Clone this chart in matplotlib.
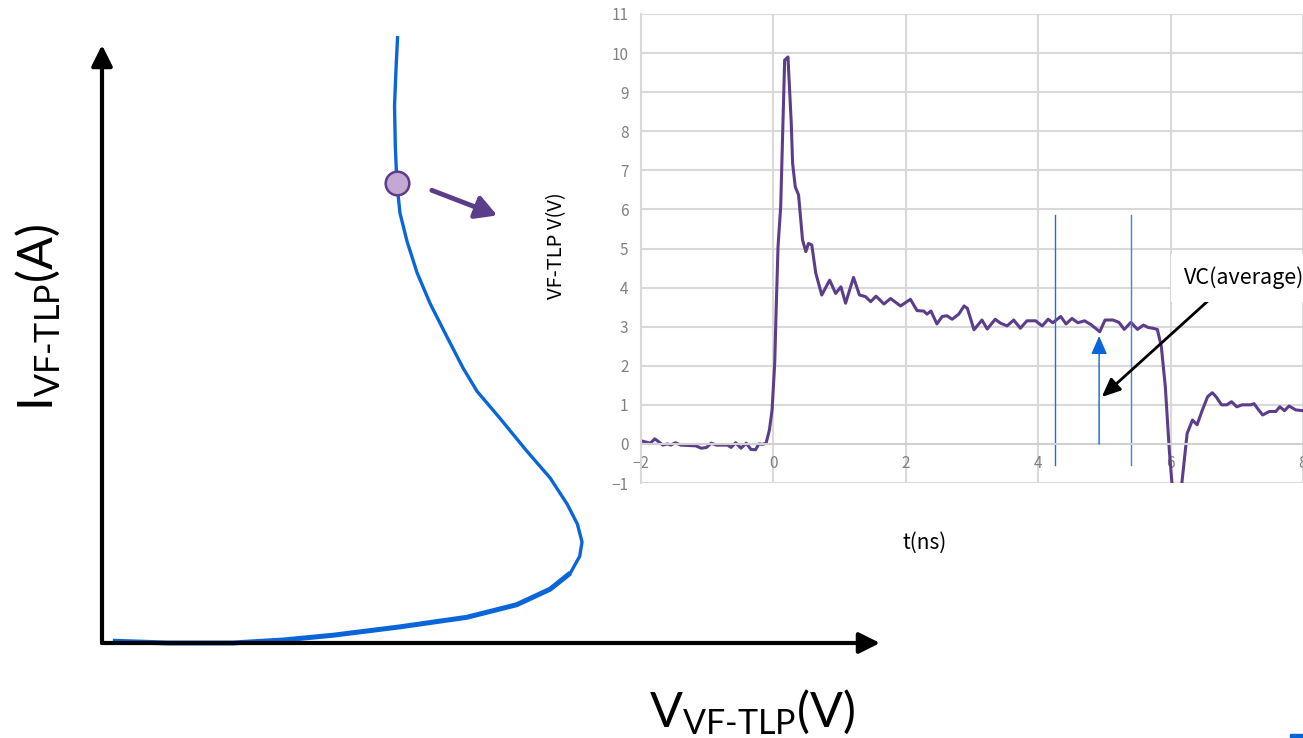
import matplotlib.pyplot as plt
from matplotlib.patches import Rectangle

plt.rcParams['mathtext.fontset'] = 'custom'
plt.rcParams['mathtext.rm'] = 'Lato'
plt.rcParams['mathtext.it'] = 'Lato'

# schematic I-V curve (arbitrary units 0..1)
iv_v = [0.014, 0.084, 0.168, 0.233, 0.297, 0.383, 0.469, 0.533, 0.576, 0.602,
        0.614, 0.617, 0.611, 0.598, 0.576, 0.546, 0.512, 0.482, 0.464, 0.443,
        0.422, 0.405, 0.392, 0.383, 0.379, 0.377, 0.376, 0.378, 0.380]
iv_i = [0.003, 0.000, 0.000, 0.005, 0.013, 0.027, 0.043, 0.064, 0.090, 0.117,
        0.145, 0.169, 0.199, 0.232, 0.276, 0.321, 0.375, 0.421, 0.460, 0.513,
        0.567, 0.619, 0.672, 0.719, 0.769, 0.831, 0.898, 0.963, 1.015]
op_v, op_i = 0.379, 0.769

# VF-TLP waveform
t_ns = [-2.00, -1.86, -1.79, -1.67, -1.60, -1.55, -1.48, -1.40, -1.17, -1.09,
        -1.01, -0.94, -0.86, -0.69, -0.64, -0.57, -0.49, -0.41, -0.34, -0.27,
        -0.22, -0.16, -0.11, -0.06, -0.02, 0.02, 0.04, 0.07, 0.11, 0.17,
        0.22, 0.27, 0.29, 0.33, 0.38, 0.44, 0.49, 0.53, 0.58, 0.64,
        0.73, 0.85, 0.94, 1.02, 1.09, 1.21, 1.30, 1.39, 1.47, 1.55,
        1.67, 1.77, 1.92, 2.07, 2.17, 2.27, 2.32, 2.38, 2.47, 2.55,
        2.62, 2.70, 2.80, 2.88, 2.93, 3.03, 3.15, 3.23, 3.35, 3.43,
        3.53, 3.63, 3.73, 3.83, 3.96, 4.06, 4.15, 4.22, 4.34, 4.42,
        4.51, 4.60, 4.70, 4.80, 4.93, 5.01, 5.13, 5.22, 5.30, 5.40,
        5.50, 5.59, 5.66, 5.73, 5.80, 5.86, 5.92, 5.98, 6.02, 6.08,
        6.17, 6.25, 6.33, 6.40, 6.48, 6.56, 6.63, 6.69, 6.77, 6.85,
        6.92, 7.00, 7.08, 7.21, 7.26, 7.33, 7.39, 7.49, 7.59, 7.65,
        7.72, 7.79, 7.89, 8.00]
v_tlp = [0.08, 0.02, 0.13, -0.03, 0.00, -0.03, 0.03, -0.03, -0.05, -0.11,
         -0.09, 0.02, -0.03, -0.03, -0.09, 0.03, -0.11, 0.02, -0.14, -0.15,
         0.00, -0.01, 0.02, 0.36, 0.87, 2.07, 3.34, 5.05, 6.07, 9.82,
         9.90, 8.20, 7.18, 6.58, 6.37, 5.22, 4.92, 5.13, 5.09, 4.37,
         3.81, 4.19, 3.85, 4.02, 3.60, 4.26, 3.81, 3.77, 3.64, 3.78,
         3.58, 3.72, 3.53, 3.70, 3.41, 3.40, 3.32, 3.40, 3.07, 3.26,
         3.28, 3.19, 3.32, 3.53, 3.47, 2.92, 3.17, 2.94, 3.19, 3.09,
         3.02, 3.17, 2.96, 3.15, 3.15, 3.02, 3.19, 3.10, 3.26, 3.07,
         3.21, 3.10, 3.15, 3.05, 2.87, 3.17, 3.17, 3.11, 2.93, 3.11,
         2.93, 3.04, 2.98, 2.96, 2.93, 2.49, 1.47, -0.15, -1.00, -1.50,
         -1.00, 0.27, 0.61, 0.49, 0.87, 1.21, 1.31, 1.20, 1.00, 1.00,
         1.08, 0.95, 1.00, 1.00, 1.03, 0.87, 0.74, 0.83, 0.83, 0.95,
         0.85, 0.97, 0.87, 0.85]
win_start, win_end = 4.25, 5.40
vc_t, vc_level = 4.92, 2.76

blue = '#0a66d8'
purple = '#5c3d8a'

fig = plt.figure(figsize=(13.03, 7.38), dpi=100)

# ---- left schematic ----
ax = fig.add_axes([102/1303, 95/738, 778/1303, 598/738])
ax.set_xlim(0, 1)
ax.set_ylim(0, 1)
ax.axis('off')

arrow_kw = dict(arrowstyle='-|>,head_length=0.9,head_width=0.45', color='black',
                lw=3, mutation_scale=14, shrinkA=0, shrinkB=0)
ax.annotate('', xy=(0, 1), xytext=(0, 0), arrowprops=arrow_kw, annotation_clip=False)
ax.annotate('', xy=(1, 0), xytext=(0, 0), arrowprops=arrow_kw, annotation_clip=False)

ax.plot(iv_v, iv_i, color=blue, lw=2.4, solid_capstyle='butt', solid_joinstyle='round',
        clip_on=False)
ax.plot(iv_v[:10], iv_i[:10], color=blue, lw=3.6, solid_capstyle='butt',
        solid_joinstyle='round', clip_on=False)
ax.plot([op_v], [op_i], 'o', ms=17, mfc='#c3a8d4', mec=purple, mew=1.8, zorder=5)
ax.annotate('', xy=(0.508, 0.715), xytext=(0.424, 0.757),
            arrowprops=dict(arrowstyle='-|>,head_length=0.9,head_width=0.5',
                            color=purple, lw=3.5, mutation_scale=14,
                            shrinkA=0, shrinkB=0))

fig.text(38/1303, 1 - 318/738, '$\\mathrm{I_{VF\u2010TLP}(A)}$', rotation=90,
         fontsize=35, ha='center', va='center')
fig.text(752/1303, 1 - 712/738, '$\\mathrm{V_{VF\u2010TLP}(V)}$',
         fontsize=35, ha='center', va='center')

# ---- inset waveform ----
jp = ['Noto Sans CJK JP', 'DejaVu Sans']
ax2 = fig.add_axes([641/1303, 255/738, 662/1303, 469/738])
ax2.set_xlim(-2, 8)
ax2.set_ylim(-1, 11)
ax2.set_xticks(range(-2, 9, 2))
ax2.set_yticks(range(-1, 12))
ax2.grid(True, color='#d9d9d9', lw=1.5)
ax2.set_axisbelow(True)
for s in ['top', 'right']:
    ax2.spines[s].set_visible(False)
ax2.spines['left'].set_color('#d9d9d9')
ax2.spines['left'].set_linewidth(1.5)
ax2.spines['bottom'].set_position(('data', 0))
ax2.spines['bottom'].set_color('#d0d0d0')
ax2.spines['bottom'].set_linewidth(1.5)
ax2.tick_params(length=0, labelsize=11, labelcolor='#808080')
ax2.tick_params(axis='x', pad=8)
ax2.tick_params(axis='y', pad=9)
for lab in ax2.get_xticklabels() + ax2.get_yticklabels():
    lab.set_family(jp)

ax2.plot(t_ns, v_tlp, color=purple, lw=2.2)
ax2.axvline(win_start, ymin=(-0.54 + 1) / 12, ymax=(5.86 + 1) / 12, color='#1f6fd6', lw=1)
ax2.axvline(win_end, ymin=(-0.54 + 1) / 12, ymax=(5.86 + 1) / 12, color='#3a86e0', lw=1)
ax2.annotate('', xy=(vc_t, vc_level), xytext=(vc_t, 0),
             arrowprops=dict(arrowstyle='-|>,head_length=0.8,head_width=0.35',
                             color=blue, lw=1, mutation_scale=14,
                             shrinkA=0, shrinkB=0))
ax2.annotate('', xy=(4.96, 1.2), xytext=(6.65, 3.79),
             arrowprops=dict(arrowstyle='-|>,head_length=0.8,head_width=0.35',
                             color='black', lw=2, mutation_scale=14,
                             shrinkA=0, shrinkB=0))
ax2.text(6.2, 4.25, 'VC(average)', fontsize=15.5, family=jp, va='center', ha='left',
         bbox=dict(facecolor='white', edgecolor='none', pad=9), clip_on=False)

fig.text(557/1303, 1 - 246/738, 'VF-TLP V(V)', rotation=90, fontsize=14.5,
         family=jp, ha='center', va='center')
fig.text(925/1303, 1 - 543/738, 't(ns)', fontsize=15, family=jp,
         ha='center', va='center')

fig.patches.append(Rectangle((1290/1303, 0), 13/1303, 4/738, color=blue,
                             transform=fig.transFigure, figure=fig))

fig.savefig('out.png', dpi=100)
